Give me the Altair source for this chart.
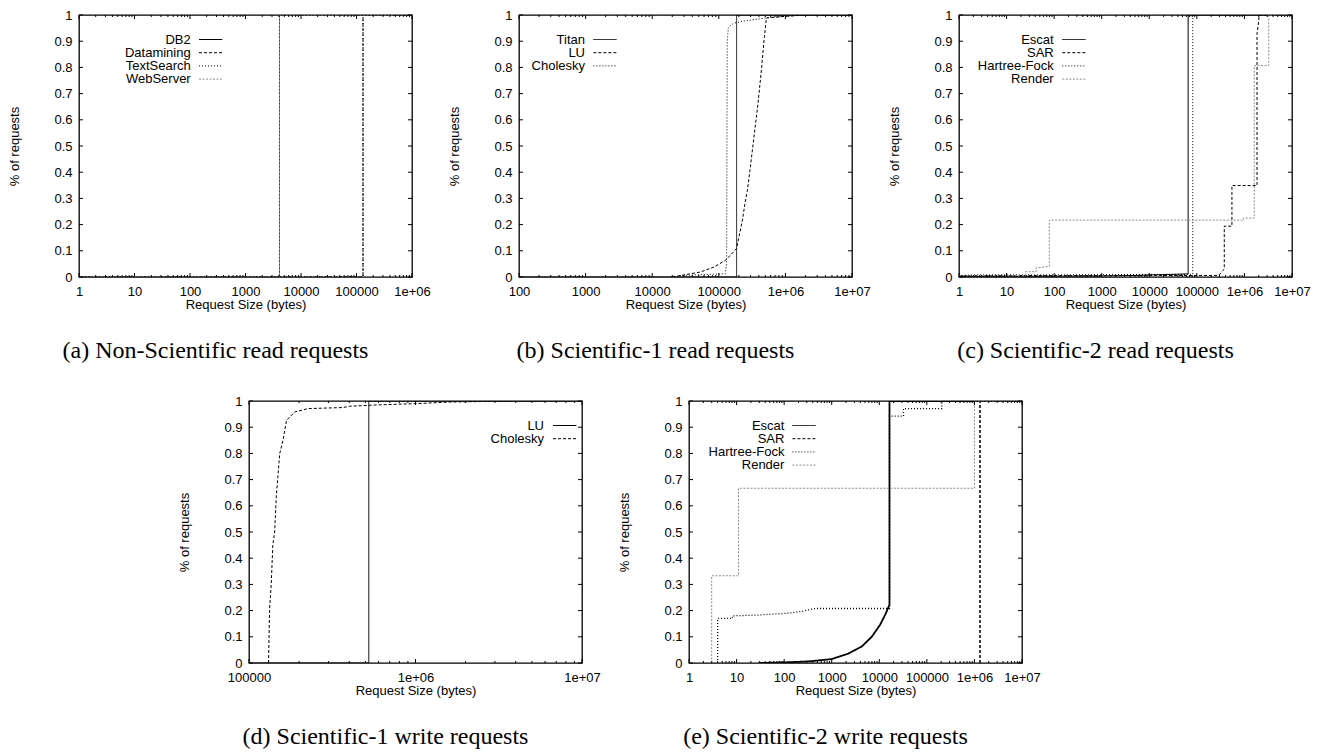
import altair as alt
import pandas as pd

SANS = "Liberation Sans"
SERIF = "Liberation Serif"
PW, PH = 333, 262
MAJ, MIN = 4, 2

# ---------------- tick values ----------------
Y_TICKS = [0, 0.1, 0.2, 0.3, 0.4, 0.5, 0.6, 0.7, 0.8, 0.9, 1]
MINOR_MULT = [2, 3, 4, 5, 6, 7, 8, 9]
A_XTICKS = [1, 10, 100, 1000, 10000, 100000, 1000000]
B_XTICKS = [100, 1000, 10000, 100000, 1000000, 10000000]
C_XTICKS = [1, 10, 100, 1000, 10000, 100000, 1000000, 10000000]
D_XTICKS = [100000, 1000000, 10000000]
E_XTICKS = [1, 10, 100, 1000, 10000, 100000, 1000000, 10000000]

# ---------------- (a) Non-Scientific read ----------------
A_NAMES = ["DB2", "Datamining", "TextSearch", "WebServer"]
A_DB2_X = [1, 4096, 4096, 1000000]
A_DB2_Y = [0, 0, 1, 1]
A_DM_X = [1, 131072, 131072, 1000000]
A_DM_Y = [0, 0, 1, 1]
A_TS_X = [1, 131072, 131072, 1000000]
A_TS_Y = [0, 0, 1, 1]
A_WS_X = [1, 4096, 4096, 1000000]
A_WS_Y = [0, 0, 1, 1]

# ---------------- (b) Scientific-1 read ----------------
B_NAMES = ["Titan", "LU", "Cholesky"]
B_TITAN_X = [100, 185000, 185000, 10000000]
B_TITAN_Y = [0, 0, 1, 1]
B_LU_X = [20000, 53000, 84700, 127000, 184000, 201000, 226000, 247000, 269000,
          294000, 338000, 388000, 436000, 484000, 519000, 1000000, 2000000, 10000000]
B_LU_Y = [0, 0.019, 0.038, 0.064, 0.108, 0.153, 0.217, 0.28, 0.331,
          0.408, 0.536, 0.663, 0.79, 0.918, 0.989, 0.995, 1.0, 1.0]
B_CHOL_X = [26000, 60000, 125000, 131000, 134000, 139000, 150000, 169000,
            250000, 519000, 1000000, 2000000, 10000000]
B_CHOL_Y = [0.005, 0.01, 0.012, 0.05, 0.9, 0.95, 0.96, 0.969,
            0.978, 0.989, 0.995, 1.0, 1.0]

# ---------------- (c) Scientific-2 read ----------------
C_NAMES = ["Escat", "SAR", "Hartree-Fock", "Render"]
C_ESCAT_X = [1, 100, 1000, 5000, 10000, 30000, 65536, 65536, 10000000]
C_ESCAT_Y = [0.002, 0.003, 0.004, 0.006, 0.008, 0.01, 0.012, 1, 1]
C_SAR_X = [1, 1000, 286000, 353000, 377000, 377000, 546000, 546000,
           1840000, 1840000, 1950000, 2050000, 10000000]
C_SAR_Y = [0.005, 0.005, 0.006, 0.025, 0.03, 0.194, 0.194, 0.349,
           0.349, 0.93, 0.96, 1.0, 1.0]
C_HF_X = [1, 2, 10, 100, 1000, 10000, 81920, 81920, 10000000]
C_HF_Y = [0.005, 0.008, 0.008, 0.008, 0.009, 0.01, 0.01, 1, 1]
C_RENDER_X = [1, 25, 25, 42, 42, 79, 79, 960000, 960000, 1610000, 1610000,
              3240000, 3240000, 10000000]
C_RENDER_Y = [0.005, 0.005, 0.02, 0.02, 0.035, 0.04, 0.217, 0.217, 0.225, 0.225,
              0.807, 0.807, 1.0, 1.0]

# ---------------- (d) Scientific-1 write ----------------
D_NAMES = ["LU", "Cholesky"]
D_LU_X = [100000, 524288, 524288, 10000000]
D_LU_Y = [0, 0, 1, 1]
D_CHOL_X = [131000, 133000, 136000, 139000, 142600, 146000, 153000, 160000, 168000,
            188000, 226000, 367000, 403000, 582000, 1010000, 1600000, 4000000, 10000000]
D_CHOL_Y = [0, 0.21, 0.3, 0.45, 0.5, 0.64, 0.8, 0.85, 0.926,
            0.958, 0.971, 0.975, 0.98, 0.985, 0.99, 0.996, 1.0, 1.0]

# ---------------- (e) Scientific-2 write ----------------
E_NAMES = ["Escat", "SAR", "Hartree-Fock", "Render"]
E_ESCAT_X = [30, 105, 324, 1000, 2240, 4280, 6930, 10400, 13300, 16384, 16384, 10000000]
E_ESCAT_Y = [0, 0.0025, 0.006, 0.015, 0.036, 0.063, 0.1, 0.146, 0.184, 0.222, 1, 1]
E_SAR_X = [1310000, 1310000, 10000000]
E_SAR_Y = [0, 1, 1]
E_HF_X = [4, 4, 8.2, 8.2, 28.8, 64, 123, 235, 447, 16384, 16384, 32300, 32300,
          207000, 207000, 10000000]
E_HF_Y = [0, 0.17, 0.17, 0.18, 0.183, 0.187, 0.19, 0.197, 0.208, 0.208, 0.942, 0.942,
          0.971, 0.971, 1.0, 1.0]
E_RENDER_X = [3, 3, 11, 11, 1000000, 1000000, 10000000]
E_RENDER_Y = [0, 0.333, 0.333, 0.667, 0.667, 1, 1]

# ---------------- styles ----------------
LINE_COLORS = ["#000000", "#000000", "#000000", "#8c8c8c"]
LINE_DASHES = [[1, 0], [3, 2], [1, 2], [2, 1.5]]

XLAB = ("datum.value >= 1000000 ? replace(format(datum.value, '.0e'), 'e+', 'e+0')"
        " : format(datum.value, 'd')")


def build_df(names, xs, ys):
    rows = []
    for name, xv, yv in zip(names, xs, ys):
        for i, (x, y) in enumerate(zip(xv, yv)):
            rows.append({"series": name, "x": x, "y": y, "i": i})
    return pd.DataFrame(rows)


def panel(names, xs, ys, decades, caption, leg_right, leg_x1, leg_x2, widths=None):
    n = len(names)
    df = build_df(names, xs, ys)
    domain = [decades[0], decades[-1]]
    minor = [m * d for d in decades[:-1] for m in MINOR_MULT]
    if widths is None:
        widths = [1] * n
    xsc = alt.Scale(type="log", domain=domain, nice=False)
    ysc = alt.Scale(type="linear", domain=[0, 1], nice=False, zero=False)
    xax = alt.Axis(values=decades, labelExpr=XLAB, title="Request Size (bytes)")
    yax = alt.Axis(values=Y_TICKS, format="~g", title="% of requests")
    color = alt.Color("series:N", scale=alt.Scale(domain=names, range=LINE_COLORS[:n]), legend=None)
    dash = alt.StrokeDash("series:N", scale=alt.Scale(domain=names, range=LINE_DASHES[:n]), legend=None)

    lines = alt.Chart(df).mark_line(clip=True).encode(
        x=alt.X("x:Q", scale=xsc, axis=xax),
        y=alt.Y("y:Q", scale=ysc, axis=yax),
        color=color,
        strokeDash=dash,
        strokeWidth=alt.StrokeWidth("series:N", scale=alt.Scale(domain=names, range=widths), legend=None),
        detail="series:N",
        order=alt.Order("i:Q"),
    )

    def xr(vals, y1, y2):
        return alt.Chart(pd.DataFrame({"t": vals})).mark_rule(color="black", strokeWidth=1).encode(
            x=alt.X("t:Q", scale=xsc, axis=xax), y=alt.value(y1), y2=alt.value(y2))

    def yr(x1, x2):
        return alt.Chart(pd.DataFrame({"t": Y_TICKS})).mark_rule(color="black", strokeWidth=1).encode(
            y=alt.Y("t:Q", scale=ysc, axis=yax), x=alt.value(x1), x2=alt.value(x2))

    ticks = [xr(decades, PH, PH - MAJ), xr(minor, PH, PH - MIN),
             xr(decades, 0, MAJ), xr(minor, 0, MIN),
             yr(0, MAJ), yr(PW, PW - MAJ)]

    leg = alt.Chart(pd.DataFrame({"series": names, "k": list(range(n))})).transform_calculate(
        ly="24.5 + 13.2 * datum.k")
    ltext = leg.mark_text(align="right", baseline="middle", font=SANS, fontSize=13, color="black").encode(
        x=alt.value(leg_right), y=alt.Y("ly:Q", scale=None), text="series:N")
    lrule = leg.mark_rule(strokeWidth=1).encode(
        x=alt.value(leg_x1), x2=alt.value(leg_x2),
        y=alt.Y("ly:Q", scale=None), color=color, strokeDash=dash)

    return alt.layer(lines, *ticks, lrule, ltext).properties(
        width=PW, height=PH,
        title=alt.TitleParams(caption, orient="bottom", anchor="middle", font=SERIF, fontSize=24,
                              fontWeight="normal", color="black", offset=28, dx=-30))


pa = panel(A_NAMES, [A_DB2_X, A_DM_X, A_TS_X, A_WS_X], [A_DB2_Y, A_DM_Y, A_TS_Y, A_WS_Y],
           A_XTICKS, "(a) Non-Scientific read requests", 111.7, 120, 143.3)
pb = panel(B_NAMES, [B_TITAN_X, B_LU_X, B_CHOL_X], [B_TITAN_Y, B_LU_Y, B_CHOL_Y],
           B_XTICKS, "(b) Scientific-1 read requests", 66, 74.4, 97.7)
pc = panel(C_NAMES, [C_ESCAT_X, C_SAR_X, C_HF_X, C_RENDER_X], [C_ESCAT_Y, C_SAR_Y, C_HF_Y, C_RENDER_Y],
           C_XTICKS, "(c) Scientific-2 read requests", 94.7, 103.3, 126.7)
p_d = panel(D_NAMES, [D_LU_X, D_CHOL_X], [D_LU_Y, D_CHOL_Y],
            D_XTICKS, "(d) Scientific-1 write requests", 295, 304, 327.4)
pe = panel(E_NAMES, [E_ESCAT_X, E_SAR_X, E_HF_X, E_RENDER_X], [E_ESCAT_Y, E_SAR_Y, E_HF_Y, E_RENDER_Y],
           E_XTICKS, "(e) Scientific-2 write requests", 95.4, 103.4, 126.7, widths=[1.8, 1, 1, 1])

spacer = alt.Chart(pd.DataFrame({"v": [0]})).mark_rule(opacity=0).encode(
    x=alt.value(0), y=alt.value(0), y2=alt.value(1)
).properties(width=82, height=PH, view=alt.ViewBackground(strokeOpacity=0))

IND = dict(color="independent", strokeDash="independent", strokeWidth="independent")

top = alt.hconcat(pa, pb, pc, spacing=17).resolve_scale(**IND)
bottom = alt.hconcat(spacer, p_d, pe, spacing=17).resolve_scale(**IND)

chart = alt.vconcat(top, bottom, spacing=30).resolve_scale(**IND).properties(
    padding=0, background="white"
).configure_view(
    stroke="black", strokeWidth=1.3
).configure_axis(
    domain=False, ticks=False, tickSize=0, grid=False,
    labelFont=SANS, labelFontSize=13, labelColor="black",
    titleFont=SANS, titleFontSize=13, titleFontWeight="normal", titleColor="black",
    labelFlush=False, labelOverlap=False,
).configure_axisX(
    labelPadding=8, titlePadding=0
).configure_axisY(
    labelPadding=7, titlePadding=32
)

chart.save("out.html", embed_options={"renderer": "svg", "actions": False})
